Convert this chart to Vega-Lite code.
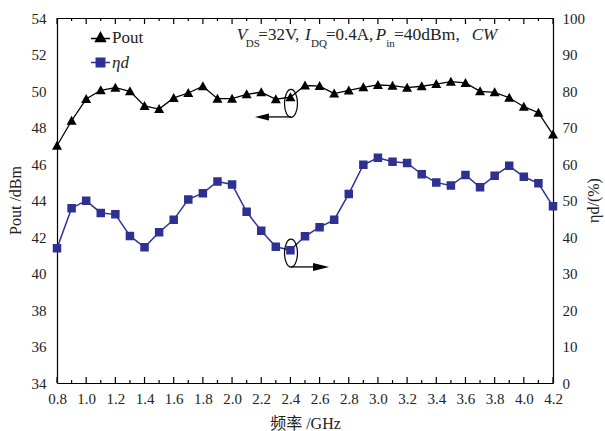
{
  "$schema": "https://vega.github.io/schema/vega-lite/v6.json",
  "width": 496,
  "height": 365,
  "autosize": {"type": "none"},
  "padding": {"left": 57, "top": 18, "right": 52, "bottom": 48},
  "background": "white",
  "config": {
    "font": "Liberation Serif, Times New Roman, serif",
    "view": {"stroke": null},
    "axis": {
      "domainColor": "black", "domainWidth": 1.2,
      "labelFont": "Liberation Serif, Times New Roman, serif", "labelFontSize": 15, "labelColor": "#222",
      "titleFont": "Liberation Serif, Times New Roman, Noto Sans CJK SC, serif", "titleFontSize": 16, "titleFontWeight": "normal", "titleColor": "#222",
      "grid": false
    }
  },
  "datasets": {
    "meas": [
      {"f": 0.8, "series": "Pout", "v": 47.0}, {"f": 0.9, "series": "Pout", "v": 48.37}, {"f": 1.0, "series": "Pout", "v": 49.56},
      {"f": 1.1, "series": "Pout", "v": 50.04}, {"f": 1.2, "series": "Pout", "v": 50.18}, {"f": 1.3, "series": "Pout", "v": 49.98},
      {"f": 1.4, "series": "Pout", "v": 49.18}, {"f": 1.5, "series": "Pout", "v": 49.01}, {"f": 1.6, "series": "Pout", "v": 49.62},
      {"f": 1.7, "series": "Pout", "v": 49.89}, {"f": 1.8, "series": "Pout", "v": 50.26}, {"f": 1.9, "series": "Pout", "v": 49.58},
      {"f": 2.0, "series": "Pout", "v": 49.58}, {"f": 2.1, "series": "Pout", "v": 49.82}, {"f": 2.2, "series": "Pout", "v": 49.93},
      {"f": 2.3, "series": "Pout", "v": 49.55}, {"f": 2.4, "series": "Pout", "v": 49.66}, {"f": 2.5, "series": "Pout", "v": 50.30},
      {"f": 2.6, "series": "Pout", "v": 50.27}, {"f": 2.7, "series": "Pout", "v": 49.86}, {"f": 2.8, "series": "Pout", "v": 50.03},
      {"f": 2.9, "series": "Pout", "v": 50.20}, {"f": 3.0, "series": "Pout", "v": 50.33}, {"f": 3.1, "series": "Pout", "v": 50.29},
      {"f": 3.2, "series": "Pout", "v": 50.18}, {"f": 3.3, "series": "Pout", "v": 50.26}, {"f": 3.4, "series": "Pout", "v": 50.38},
      {"f": 3.5, "series": "Pout", "v": 50.51}, {"f": 3.6, "series": "Pout", "v": 50.44}, {"f": 3.7, "series": "Pout", "v": 49.98},
      {"f": 3.8, "series": "Pout", "v": 49.93}, {"f": 3.9, "series": "Pout", "v": 49.63}, {"f": 4.0, "series": "Pout", "v": 49.14},
      {"f": 4.1, "series": "Pout", "v": 48.81}, {"f": 4.2, "series": "Pout", "v": 47.61},
      {"f": 0.8, "series": "ηd", "v": 36.9}, {"f": 0.9, "series": "ηd", "v": 47.9}, {"f": 1.0, "series": "ηd", "v": 49.95},
      {"f": 1.1, "series": "ηd", "v": 46.6}, {"f": 1.2, "series": "ηd", "v": 46.2}, {"f": 1.3, "series": "ηd", "v": 40.3},
      {"f": 1.4, "series": "ηd", "v": 37.2}, {"f": 1.5, "series": "ηd", "v": 41.3}, {"f": 1.6, "series": "ηd", "v": 44.7},
      {"f": 1.7, "series": "ηd", "v": 50.3}, {"f": 1.8, "series": "ηd", "v": 52.0}, {"f": 1.9, "series": "ηd", "v": 55.2},
      {"f": 2.0, "series": "ηd", "v": 54.4}, {"f": 2.1, "series": "ηd", "v": 46.9}, {"f": 2.2, "series": "ηd", "v": 41.7},
      {"f": 2.3, "series": "ηd", "v": 37.3}, {"f": 2.4, "series": "ηd", "v": 36.4}, {"f": 2.5, "series": "ηd", "v": 40.2},
      {"f": 2.6, "series": "ηd", "v": 42.7}, {"f": 2.7, "series": "ηd", "v": 44.7}, {"f": 2.8, "series": "ηd", "v": 51.8},
      {"f": 2.9, "series": "ηd", "v": 59.8}, {"f": 3.0, "series": "ηd", "v": 61.7}, {"f": 3.1, "series": "ηd", "v": 60.6},
      {"f": 3.2, "series": "ηd", "v": 60.3}, {"f": 3.3, "series": "ηd", "v": 57.2}, {"f": 3.4, "series": "ηd", "v": 54.9},
      {"f": 3.5, "series": "ηd", "v": 54.1}, {"f": 3.6, "series": "ηd", "v": 57.0}, {"f": 3.7, "series": "ηd", "v": 53.6},
      {"f": 3.8, "series": "ηd", "v": 56.8}, {"f": 3.9, "series": "ηd", "v": 59.5}, {"f": 4.0, "series": "ηd", "v": 56.5},
      {"f": 4.1, "series": "ηd", "v": 54.7}, {"f": 4.2, "series": "ηd", "v": 48.4}
    ]
  },
  "layer": [
    {
      "data": {"name": "meas"},
      "transform": [{"filter": "datum.series=='Pout'"}],
      "encoding": {
        "x": {"field": "f", "type": "quantitative", "scale": {"domain": [0.8, 4.2], "nice": false, "zero": false},
          "axis": {"orient": "bottom", "title": "频率 /GHz", "titleX": 248, "titleY": 40, "titleBaseline": "middle",
            "labelOverlap": false, "labelFlush": false, "ticks": false, "grid": false,
            "values": [0.8,1.0,1.2,1.4,1.6,1.8,2.0,2.2,2.4,2.6,2.8,3.0,3.2,3.4,3.6,3.8,4.0,4.2],
            "format": ".1f",
            "labelPadding": 8}},
        "y": {"field": "v", "type": "quantitative", "scale": {"domain": [34, 54], "nice": false, "zero": false},
          "axis": {"orient": "left", "title": "Pout /dBm", "titleX": -42, "titleY": 182, "titleBaseline": "middle", "titleAngle": -90,
            "labelOverlap": false, "labelFlush": false, "ticks": false, "grid": false,
            "values": [34,36,38,40,42,44,46,48,50,52,54],
            "labelPadding": 11}}
      },
      "layer": [
        {"mark": {"type": "line", "color": "black", "strokeWidth": 1.3}},
        {"mark": {"type": "point", "filled": true, "opacity": 1, "strokeWidth": 0, "size": 100},
          "encoding": {
            "fill": {"field": "series", "type": "nominal", "scale": {"domain": ["Pout", "ηd"], "range": ["black", "#2e3192"]},
              "legend": {"title": null, "orient": "none", "legendX": 35, "legendY": 11, "symbolSize": 100, "symbolStrokeWidth": 1.4,
                "labelFont": "Liberation Serif, Times New Roman, serif", "labelFontSize": 17, "labelColor": "#222", "labelOffset": 3, "rowPadding": 7,
                "labelFontStyle": {"expr": "datum.value === 'ηd' ? 'italic' : 'normal'"}}},
            "stroke": {"field": "series", "type": "nominal", "scale": {"domain": ["Pout", "ηd"], "range": ["black", "#2e3192"]}, "legend": {"title": null}},
            "shape": {"field": "series", "type": "nominal", "scale": {"domain": ["Pout", "ηd"], "range": ["M-1.9,0.2H1.9M0,-1L1,0.8L-1,0.8Z", "M-1.9,0H1.9M-0.85,-0.85H0.85V0.85H-0.85Z"]}, "legend": {"title": null}}
          }}
      ]
    },
    {
      "data": {"name": "meas"},
      "transform": [{"filter": "datum.series=='ηd'"}],
      "encoding": {
        "x": {"field": "f", "type": "quantitative", "scale": {"domain": [0.8, 4.2], "nice": false, "zero": false},
          "axis": {"orient": "top", "title": null, "labels": false, "ticks": false, "grid": false}},
        "y": {"field": "v", "type": "quantitative", "scale": {"domain": [0, 100], "nice": false, "zero": false},
          "axis": {"orient": "right", "title": "ηd/(%)", "titleAngle": -90, "titleBaseline": "middle", "titleX": 40, "titleY": 182,
            "labelOverlap": false, "labelFlush": false, "ticks": false, "grid": false,
            "values": [0,10,20,30,40,50,60,70,80,90,100],
            "labelPadding": 9}}
      },
      "layer": [
        {"mark": {"type": "line", "color": "#2e3192", "strokeWidth": 1.5}},
        {"mark": {"type": "point", "filled": true, "opacity": 1, "strokeWidth": 0, "size": 100},
          "encoding": {
            "fill": {"field": "series", "type": "nominal", "scale": {"domain": ["Pout", "ηd"], "range": ["black", "#2e3192"]}},
            "stroke": {"field": "series", "type": "nominal", "scale": {"domain": ["Pout", "ηd"], "range": ["black", "#2e3192"]}},
            "shape": {"field": "series", "type": "nominal", "scale": {"domain": ["Pout", "ηd"], "range": ["M-1.9,0.2H1.9M0,-1L1,0.8L-1,0.8Z", "M-1.9,0H1.9M-0.85,-0.85H0.85V0.85H-0.85Z"]}}
          }}
      ]
    },
    {
      "encoding": {
        "x": {"type": "quantitative", "scale": {"domain": [0.8, 4.2], "nice": false, "zero": false}, "axis": null},
        "y": {"type": "quantitative", "scale": {"domain": [34, 54], "nice": false, "zero": false}, "axis": null}
      },
      "layer": [
        {"data": {"name": "meas"}, "transform": [{"filter": "datum.series=='Pout' && round(datum.f*10)%2==0"}],
          "mark": {"type": "rule", "color": "black", "strokeWidth": 1.2},
          "encoding": {"x": {"field": "f", "type": "quantitative", "axis": null}, "y": {"datum": 34, "type": "quantitative", "axis": null}, "y2": {"datum": 34.33}}},
        {"data": {"name": "meas"}, "transform": [{"filter": "datum.series=='Pout' && round(datum.f*10)%2==1"}],
          "mark": {"type": "rule", "color": "black", "strokeWidth": 1.2},
          "encoding": {"x": {"field": "f", "type": "quantitative", "axis": null}, "y": {"datum": 34, "type": "quantitative", "axis": null}, "y2": {"datum": 34.165}}},
        {"data": {"name": "meas"}, "transform": [{"filter": "datum.series=='Pout' && round(datum.f*10)%2==0"}],
          "mark": {"type": "rule", "color": "black", "strokeWidth": 1.2},
          "encoding": {"x": {"field": "f", "type": "quantitative", "axis": null}, "y": {"datum": 54, "type": "quantitative", "axis": null}, "y2": {"datum": 53.67}}},
        {"data": {"name": "meas"}, "transform": [{"filter": "datum.series=='Pout' && round(datum.f*10)%2==1"}],
          "mark": {"type": "rule", "color": "black", "strokeWidth": 1.2},
          "encoding": {"x": {"field": "f", "type": "quantitative", "axis": null}, "y": {"datum": 54, "type": "quantitative", "axis": null}, "y2": {"datum": 53.835}}},
        {"data": {"values": [{"a": 1}]}, "mark": {"type": "point", "shape": "M0,-1A0.464,1 0 1,1 0,1A0.464,1 0 1,1 0,-1Z", "size": 784, "filled": false, "stroke": "black", "strokeWidth": 1.2, "opacity": 1},
          "encoding": {"x": {"datum": 2.404, "type": "quantitative", "axis": null}, "y": {"datum": 49.32, "type": "quantitative", "axis": null}}},
        {"data": {"values": [{"a": 1}]}, "mark": {"type": "point", "shape": "M0,-1A0.464,1 0 1,1 0,1A0.464,1 0 1,1 0,-1Z", "size": 784, "filled": false, "stroke": "black", "strokeWidth": 1.2, "opacity": 1},
          "encoding": {"x": {"datum": 2.404, "type": "quantitative", "axis": null}, "y": {"datum": 41.12, "type": "quantitative", "axis": null}}},
        {"data": {"values": [{"a": 1}]}, "mark": {"type": "rule", "color": "black", "strokeWidth": 1.3},
          "encoding": {"x": {"datum": 2.24, "type": "quantitative", "axis": null}, "x2": {"datum": 2.404}, "y": {"datum": 48.58, "type": "quantitative", "axis": null}}},
        {"data": {"values": [{"a": 1}]}, "mark": {"type": "point", "shape": "M-1,0L1,-0.5L1,0.5Z", "size": 196, "filled": true, "color": "black", "opacity": 1},
          "encoding": {"x": {"datum": 2.205, "type": "quantitative", "axis": null}, "y": {"datum": 48.58, "type": "quantitative", "axis": null}}},
        {"data": {"values": [{"a": 1}]}, "mark": {"type": "rule", "color": "black", "strokeWidth": 1.3},
          "encoding": {"x": {"datum": 2.404, "type": "quantitative", "axis": null}, "x2": {"datum": 2.58}, "y": {"datum": 40.36, "type": "quantitative", "axis": null}}},
        {"data": {"values": [{"a": 1}]}, "mark": {"type": "point", "shape": "M1,0L-1,-0.5L-1,0.5Z", "size": 256, "filled": true, "color": "black", "opacity": 1},
          "encoding": {"x": {"datum": 2.61, "type": "quantitative", "axis": null}, "y": {"datum": 40.36, "type": "quantitative", "axis": null}}},
        {"data": {"values": [{"a": 1}]}, "mark": {"type": "text", "text": "V", "fontStyle": "italic", "fontSize": 17, "align": "left", "baseline": "alphabetic", "color": "#222"},
          "encoding": {"x": {"datum": 2.032, "type": "quantitative", "axis": null}, "y": {"datum": 52.795, "type": "quantitative", "axis": null}}},
        {"data": {"values": [{"a": 1}]}, "mark": {"type": "text", "text": "DS", "fontSize": 11, "align": "left", "baseline": "alphabetic", "color": "#222"},
          "encoding": {"x": {"datum": 2.094, "type": "quantitative", "axis": null}, "y": {"datum": 52.43, "type": "quantitative", "axis": null}}},
        {"data": {"values": [{"a": 1}]}, "mark": {"type": "text", "text": "=32V,", "fontSize": 17, "align": "left", "baseline": "alphabetic", "color": "#222"},
          "encoding": {"x": {"datum": 2.18, "type": "quantitative", "axis": null}, "y": {"datum": 52.795, "type": "quantitative", "axis": null}}},
        {"data": {"values": [{"a": 1}]}, "mark": {"type": "text", "text": "I", "fontStyle": "italic", "fontSize": 17, "align": "left", "baseline": "alphabetic", "color": "#222"},
          "encoding": {"x": {"datum": 2.5, "type": "quantitative", "axis": null}, "y": {"datum": 52.795, "type": "quantitative", "axis": null}}},
        {"data": {"values": [{"a": 1}]}, "mark": {"type": "text", "text": "DQ", "fontSize": 11, "align": "left", "baseline": "alphabetic", "color": "#222"},
          "encoding": {"x": {"datum": 2.541, "type": "quantitative", "axis": null}, "y": {"datum": 52.43, "type": "quantitative", "axis": null}}},
        {"data": {"values": [{"a": 1}]}, "mark": {"type": "text", "text": "=0.4A,", "fontSize": 17, "align": "left", "baseline": "alphabetic", "color": "#222"},
          "encoding": {"x": {"datum": 2.644, "type": "quantitative", "axis": null}, "y": {"datum": 52.795, "type": "quantitative", "axis": null}}},
        {"data": {"values": [{"a": 1}]}, "mark": {"type": "text", "text": "P", "fontStyle": "italic", "fontSize": 17, "align": "left", "baseline": "alphabetic", "color": "#222"},
          "encoding": {"x": {"datum": 2.985, "type": "quantitative", "axis": null}, "y": {"datum": 52.795, "type": "quantitative", "axis": null}}},
        {"data": {"values": [{"a": 1}]}, "mark": {"type": "text", "text": "in", "fontSize": 11, "align": "left", "baseline": "alphabetic", "color": "#222"},
          "encoding": {"x": {"datum": 3.057, "type": "quantitative", "axis": null}, "y": {"datum": 52.43, "type": "quantitative", "axis": null}}},
        {"data": {"values": [{"a": 1}]}, "mark": {"type": "text", "text": "=40dBm,", "fontSize": 17.5, "align": "left", "baseline": "alphabetic", "color": "#222"},
          "encoding": {"x": {"datum": 3.11, "type": "quantitative", "axis": null}, "y": {"datum": 52.795, "type": "quantitative", "axis": null}}},
        {"data": {"values": [{"a": 1}]}, "mark": {"type": "text", "text": "CW", "fontStyle": "italic", "fontSize": 17, "align": "left", "baseline": "alphabetic", "color": "#222"},
          "encoding": {"x": {"datum": 3.643, "type": "quantitative", "axis": null}, "y": {"datum": 52.795, "type": "quantitative", "axis": null}}}
      ]
    }
  ],
  "resolve": {"scale": {"y": "independent"}, "axis": {"x": "independent"}}
}
